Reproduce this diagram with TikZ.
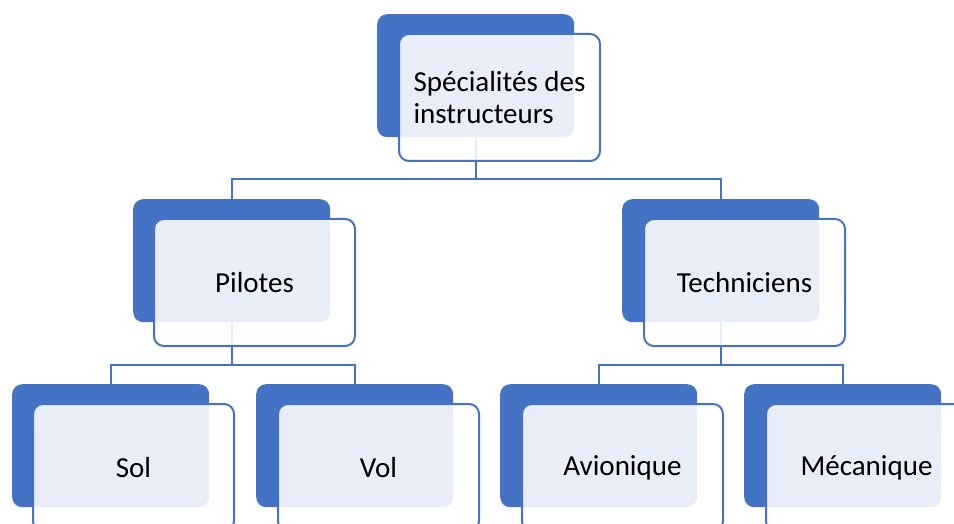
\documentclass[tikz,border=0pt]{standalone}
\usepackage{fontspec}
\setmainfont{Carlito}
\definecolor{sablue}{HTML}{4472C4}
\begin{document}
\begin{tikzpicture}[x=1pt,y=-1pt,
  back/.style={draw=none,fill=sablue,rounded corners=10pt,minimum width=197pt,minimum height=123pt,inner sep=0pt,anchor=north west},
  front/.style={draw=sablue,line width=2pt,fill=white,fill opacity=0.88,text opacity=1,rounded corners=10pt,minimum width=201pt,minimum height=127pt,inner sep=0pt,anchor=north west,font=\fontsize{29}{32}\selectfont,align=left},
  link/.style={draw=sablue,line width=2pt}]
\useasboundingbox (0,0) rectangle (954,524);
\clip (0,0) rectangle (954,524);
% back boxes
\node[back] (d0) at (377,14) {};
\node[back] (d1) at (133,199) {};
\node[back] (d2) at (622,199) {};
\node[back] (d3) at (12,384) {};
\node[back] (d4) at (256,384) {};
\node[back] (d5) at (500,384) {};
\node[back] (d6) at (744,384) {};
% connectors
\coordinate (b0) at (476,179);
\coordinate (b1) at (231,365);
\coordinate (b2) at (720,365);
\draw[link] (d0.south) -- (d0.south |- b0) -| (d1.north);
\draw[link] (d0.south |- b0) -| (d2.north);
\draw[link] (d1.south) -- (d1.south |- b1) -| (d3.north);
\draw[link] (d1.south |- b1) -| (d4.north);
\draw[link] (d2.south) -- (d2.south |- b2) -| (d5.north);
\draw[link] (d2.south |- b2) -| (d6.north);
% front boxes
\node[front] (f0) at (398,33) {Spécialités des\\instructeurs};
\node[front] (f1) at (153,218) {Pilotes};
\node[front] (f2) at (643,218) {Techniciens};
\node[front] (f3) at (32,403) {Sol};
\node[front] (f4) at (277,403) {Vol};
\node[front] (f5) at (521,403) {Avionique};
\node[front] (f6) at (765,403) {Mécanique};
\end{tikzpicture}
\end{document}
